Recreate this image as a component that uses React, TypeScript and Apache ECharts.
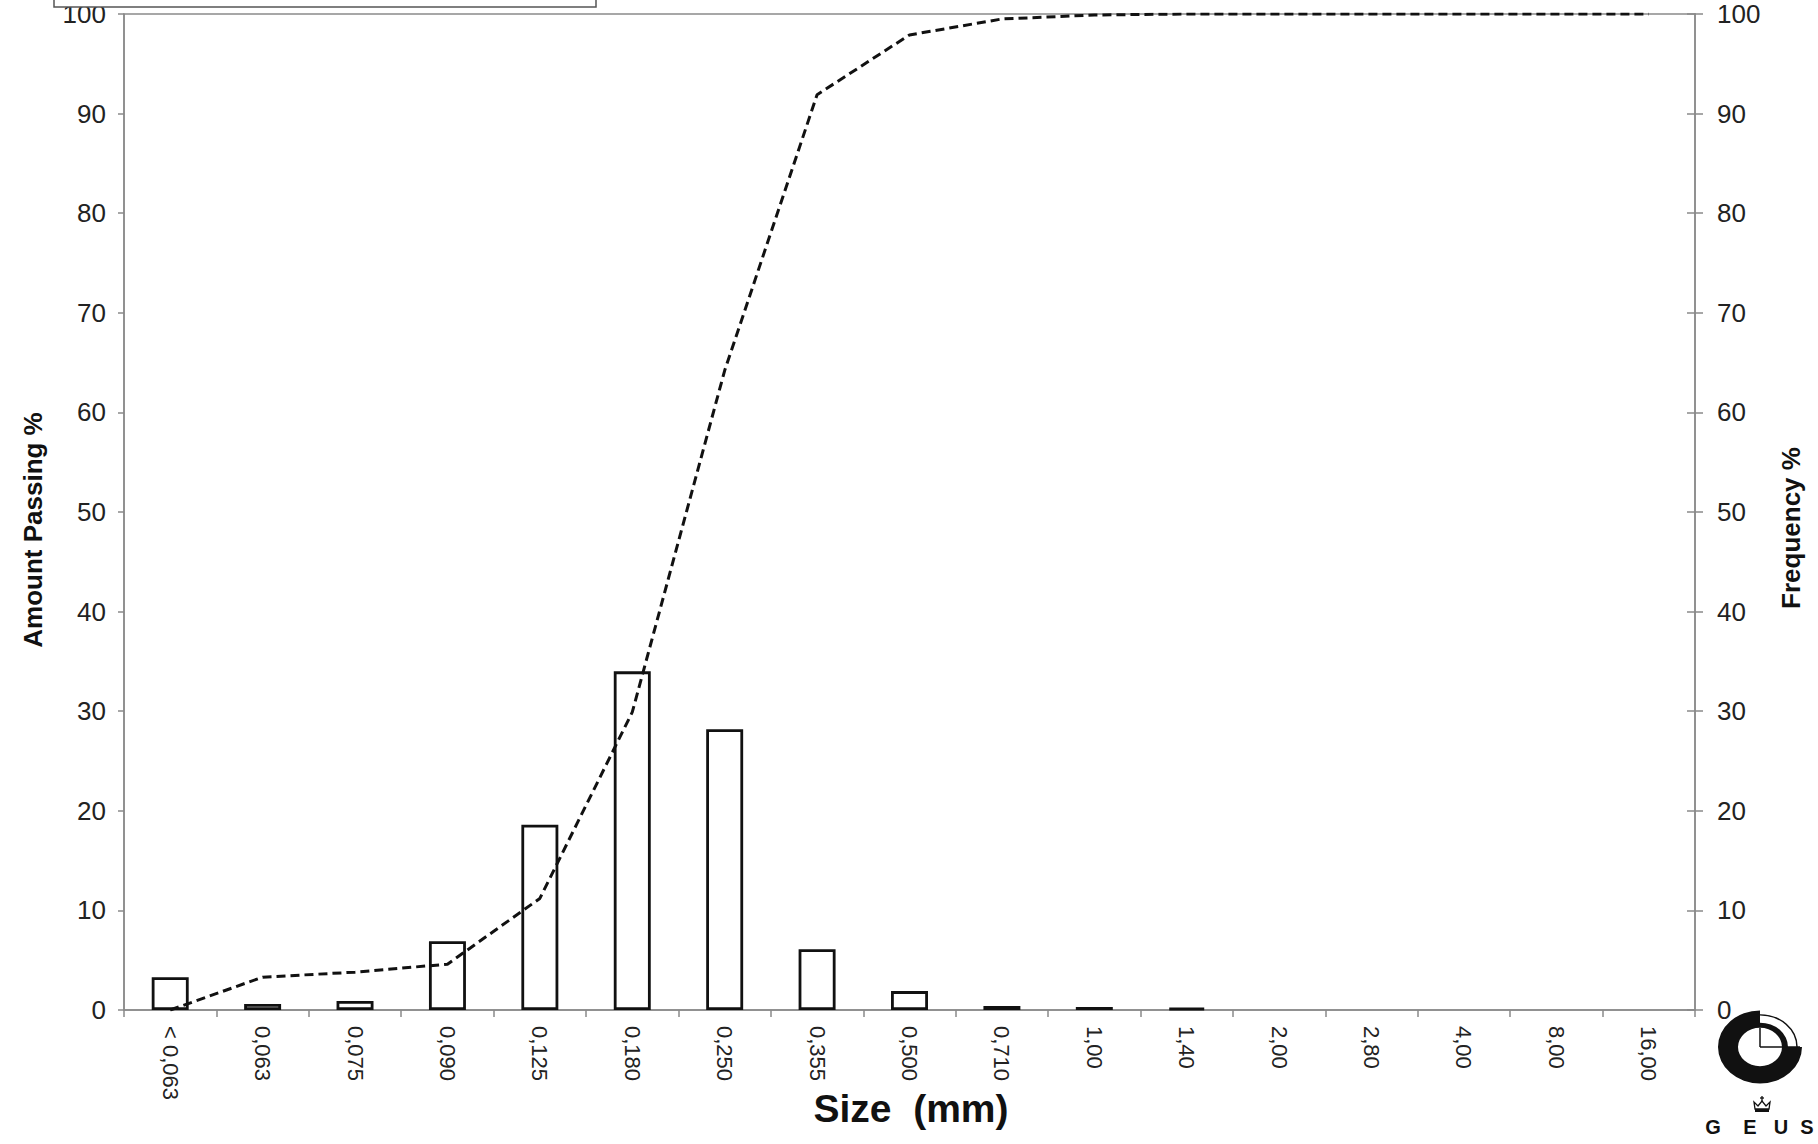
import React, { useEffect, useRef } from "react";
import * as echarts from "echarts";

const categories = ["< 0,063", "0,063", "0,075", "0,090", "0,125", "0,180", "0,250", "0,355", "0,500", "0,710", "1,00", "1,40", "2,00", "2,80", "4,00", "8,00", "16,00"];
const frequency = [3.3, 0.6, 0.9, 6.9, 18.6, 34.0, 28.2, 6.1, 1.9, 0.4, 0.3, 0.2, 0, 0, 0, 0, 0];
const amountPassing = [0, 3.3, 3.8, 4.6, 11.2, 29.9, 64.2, 91.9, 97.9, 99.5, 99.9, 100, 100, 100, 100, 100, 100];
const leftAxisName = "Amount Passing %";
const rightAxisName = "Frequency %";
const xAxisName = "Size  (mm)";
const logoLetters = ["G", "E", "U", "S"];

const FONT = "'Liberation Sans', Arial, sans-serif";
const AXIS = "#8a8a8a";

export default function App() {
  const ref = useRef<HTMLDivElement>(null);
  useEffect(() => {
    document.body.style.margin = "0";
    const chart = echarts.init(ref.current!, null, { renderer: "svg" });
    const letterX = [1713, 1750, 1781, 1807];
    chart.setOption({
      animation: false,
      backgroundColor: "#fff",
      grid: { left: 124, right: 123, top: 14, bottom: 134, show: true, borderColor: AXIS, borderWidth: 1.5, backgroundColor: "transparent" },
      xAxis: {
        type: "category",
        data: categories,
        boundaryGap: true,
        axisLine: { lineStyle: { color: AXIS, width: 1.5 } },
        axisTick: { show: true, length: 7, lineStyle: { color: AXIS, width: 1.5 } },
        axisLabel: { rotate: -90, margin: 16, fontSize: 22, fontFamily: FONT, color: "#222", interval: 0 },
        splitLine: { show: false },
      },
      yAxis: [
        {
          type: "value", position: "left", min: 0, max: 100, interval: 10,
          axisLine: { show: true, lineStyle: { color: AXIS, width: 1.5 } },
          axisTick: { show: true, length: 6, lineStyle: { color: AXIS, width: 1.5 } },
          axisLabel: { fontSize: 26, fontFamily: FONT, color: "#222", margin: 18 },
          splitLine: { show: false },
        },
        {
          type: "value", position: "right", min: 0, max: 100, interval: 10,
          axisLine: { show: true, lineStyle: { color: AXIS, width: 1.5 } },
          axisTick: { show: true, length: 8, lineStyle: { color: AXIS, width: 1.5 } },
          axisLabel: { fontSize: 26, fontFamily: FONT, color: "#222", margin: 22 },
          splitLine: { show: false },
        },
        {
          type: "value", position: "right", min: 0, max: 100, interval: 10,
          axisLine: { show: false },
          axisTick: { show: true, inside: true, length: 8, lineStyle: { color: AXIS, width: 1.5 } },
          axisLabel: { show: false },
          splitLine: { show: false },
        },
      ],
      series: [
        {
          type: "bar",
          yAxisIndex: 1,
          data: frequency.map((v) => (v === 0 ? "-" : v)),
          barWidth: "40%",
          itemStyle: { color: "#fff", borderColor: "#111", borderWidth: 2.8 },
          z: 2,
        },
        {
          type: "line",
          yAxisIndex: 0,
          data: amountPassing,
          symbol: "none",
          lineStyle: { color: "#111", width: 3, type: [9, 5] },
          z: 3,
        },
      ],
      graphic: [
        { type: "rect", shape: { x: 54, y: -40, width: 542, height: 47 }, style: { fill: "#fff", stroke: "#555", lineWidth: 1.5 }, z: 10 },
        { type: "text", x: 33, y: 530, rotation: Math.PI / 2, style: { text: leftAxisName, x: 0, y: 0, textAlign: "center", textVerticalAlign: "middle", font: `bold 26px ${FONT}`, fill: "#111" } },
        { type: "text", x: 1791, y: 528, rotation: Math.PI / 2, style: { text: rightAxisName, x: 0, y: 0, textAlign: "center", textVerticalAlign: "middle", font: `bold 26px ${FONT}`, fill: "#111" } },
        { type: "text", x: 911, y: 1108, style: { text: xAxisName, x: 0, y: 0, textAlign: "center", textVerticalAlign: "middle", font: `bold 39px ${FONT}`, fill: "#111" } },
        {
          type: "group", x: 1760, y: 1047, scaleY: 0.87,
          children: [
            { type: "sector", shape: { cx: 0, cy: 0, r: 42, r0: 22, startAngle: 0, endAngle: Math.PI * 1.5, clockwise: true }, style: { fill: "#111" } },
            { type: "arc", shape: { cx: 0, cy: 0, r: 37, startAngle: -Math.PI / 2, endAngle: 0, clockwise: true }, style: { stroke: "#111", lineWidth: 1.5, fill: "none" } },
            { type: "sector", shape: { cx: 0, cy: 0, r: 28, r0: 22, startAngle: -Math.PI / 2, endAngle: 0, clockwise: true }, style: { fill: "#111" } },
            { type: "line", shape: { x1: 0, y1: 0, x2: 0, y2: -22 }, style: { stroke: "#111", lineWidth: 1.5 } },
            { type: "line", shape: { x1: 0, y1: 0, x2: 40, y2: 0 }, style: { stroke: "#111", lineWidth: 1.5 } },
          ],
        },
        {
          type: "group", x: 1762, y: 1106,
          children: [
            { type: "polygon", shape: { points: [[-7, 3], [-8, -4], [-4, 0], [0, -5], [4, 0], [8, -4], [7, 3]] }, style: { fill: "none", stroke: "#111", lineWidth: 1.3 } },
            { type: "rect", shape: { x: -7, y: 3, width: 14, height: 3 }, style: { fill: "#111" } },
            { type: "line", shape: { x1: 0, y1: -5, x2: 0, y2: -10 }, style: { stroke: "#111", lineWidth: 1.3 } },
            { type: "line", shape: { x1: -2, y1: -8, x2: 2, y2: -8 }, style: { stroke: "#111", lineWidth: 1.3 } },
          ],
        },
        ...logoLetters.map((l, i) => ({
          type: "text", x: letterX[i], y: 1127,
          style: { text: l, x: 0, y: 0, textAlign: "center", textVerticalAlign: "middle", font: `bold 20px ${FONT}`, fill: "#111" },
        })),
      ],
    });
    return () => chart.dispose();
  }, []);
  return <div ref={ref} style={{ position: "fixed", left: 0, top: 0, width: 1818, height: 1144 }} />;
}
